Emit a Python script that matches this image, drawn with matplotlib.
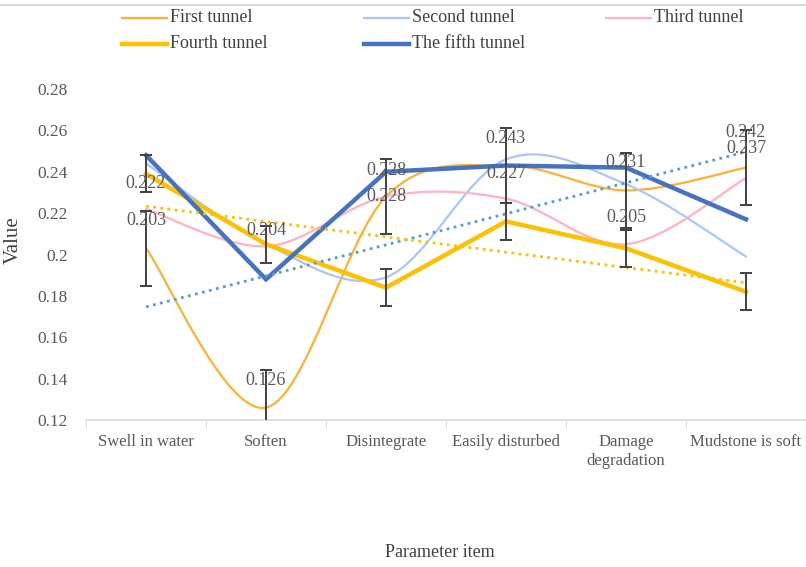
import numpy as np
import matplotlib.pyplot as plt
from matplotlib.path import Path
from matplotlib.patches import PathPatch
from matplotlib.lines import Line2D

plt.rcParams['font.family'] = ['Liberation Serif', 'DejaVu Serif']

# Survey values per parameter item
categories = ['Swell in water', 'Soften', 'Disintegrate', 'Easily disturbed',
              'Damage\ndegradation', 'Mudstone is soft']
first = [0.203, 0.126, 0.228, 0.243, 0.231, 0.242]
second = [0.244, 0.205, 0.189, 0.246, 0.234, 0.199]
third = [0.222, 0.204, 0.228, 0.227, 0.205, 0.237]
fourth = [0.239, 0.205, 0.184, 0.216, 0.203, 0.182]
fifth = [0.248, 0.188, 0.240, 0.243, 0.242, 0.217]
first_err = 0.018
fourth_err = 0.009
names = ['First tunnel', 'Second tunnel', 'Third tunnel', 'Fourth tunnel', 'The fifth tunnel']

# label lift above the point, in pixels
first_lift = [28, 27, 26, 27, 28, 35]
third_lift = [25, 16, 0, 25, 27, 29]

W, H = 806, 567
fig = plt.figure(figsize=(W / 100, H / 100), dpi=100)
ax = fig.add_axes([86 / W, (H - 420) / H, 720 / W, 331 / H])

x = np.arange(len(categories))


def smooth_path(xs, ys):
    # Catmull-Rom style bezier through the points, like a spreadsheet "smoothed line"
    pts = np.column_stack([xs, ys]).astype(float)
    ext = np.vstack([pts[0], pts, pts[-1]])
    verts = [pts[0]]
    codes = [Path.MOVETO]
    for i in range(len(pts) - 1):
        p0, p1, p2, p3 = ext[i], ext[i + 1], ext[i + 2], ext[i + 3]
        c1 = p1 + (p2 - p0) / 6
        c2 = p2 - (p3 - p1) / 6
        verts += [c1, c2, p2]
        codes += [Path.CURVE4] * 3
    return Path(verts, codes)


colors = ['#FFB131', '#A9C6F5', '#FFB3C0', '#FFC000', '#4472C4']
widths = [1.6, 1.6, 1.6, 3.2, 3.2]

for ys, c, lw in zip([first, second, third], colors[:3], widths[:3]):
    ax.add_patch(PathPatch(smooth_path(x, ys), fill=False, edgecolor=c, lw=lw,
                           capstyle='round', zorder=2))
ax.plot(x, fourth, color=colors[3], lw=widths[3], zorder=3, solid_joinstyle='miter')
ax.plot(x, fifth, color=colors[4], lw=widths[4], zorder=4, solid_joinstyle='miter')

# linear trendlines
k1, b1 = np.polyfit(x, first, 1)
k4, b4 = np.polyfit(x, fourth, 1)
ax.plot(x, k1 * x + b1, color='#5B9BD5', lw=2, ls=(0, (1, 1.6)), zorder=5)
ax.plot(x, k4 * x + b4, color='#FFC000', lw=2, ls=(0, (1, 1.6)), zorder=5)

ax.errorbar(x, first, yerr=first_err, fmt='none', ecolor='#404040', elinewidth=1.4,
            capsize=4, capthick=1.4, zorder=6)
ax.errorbar(x, fourth, yerr=fourth_err, fmt='none', ecolor='#404040', elinewidth=1.4,
            capsize=4, capthick=1.4, zorder=6)

for vals, lifts in [(first, first_lift), (third, third_lift)]:
    for xi, v, d in zip(x, vals, lifts):
        ax.annotate(f'{v:.3f}', (xi, v), xytext=(0, d * 0.72), textcoords='offset points',
                    ha='center', va='center', fontsize=13, color='#595959', zorder=7)

ax.set_xlim(-0.5, len(categories) - 0.5)
ax.set_ylim(0.12, 0.28)
ax.set_yticks(np.arange(0.12, 0.281, 0.02))
ax.set_yticklabels(['0.12', '0.14', '0.16', '0.18', '0.2', '0.22', '0.24', '0.26', '0.28'])
ax.set_xticks(x)
ax.set_xticklabels(categories, linespacing=1.3)
ax.set_xticks(np.arange(-0.5, len(categories)), minor=True)
ax.tick_params(axis='x', which='major', length=0, pad=10, labelsize=12, labelcolor='#595959')
ax.tick_params(axis='x', which='minor', length=5, color='#D9D9D9', direction='out')
ax.tick_params(axis='y', length=0, pad=13, labelsize=12.5, labelcolor='#595959')
for s in ['top', 'right', 'left']:
    ax.spines[s].set_visible(False)
ax.spines['bottom'].set_color('#D9D9D9')
ax.spines['bottom'].set_linewidth(1.2)

ax.set_ylabel('Value', fontsize=15, color='#404040')
ax.yaxis.set_label_coords(-0.088, 0.544)
ax.set_xlabel('Parameter item', fontsize=13, color='#404040')
ax.xaxis.set_label_coords(0.492, -0.375)

# legend, two rows
legend_pos = [(122, 18), (364, 18), (606, 18), (122, 44), (364, 44)]
for name, c, lw, (lx, ly) in zip(names, colors, widths, legend_pos):
    fy = 1 - ly / H
    fig.add_artist(Line2D([lx / W, (lx + 45) / W], [fy, fy], color=c, lw=lw,
                          transform=fig.transFigure))
    fig.text((lx + 48) / W, fy, name, fontsize=13, color='#404040', va='center', ha='left')

# frame edge at the top
fig.add_artist(Line2D([0, 1], [1 - 5 / H, 1 - 5 / H], color='#D9D9D9', lw=1.5,
                      transform=fig.transFigure))

fig.savefig('out.png', dpi=100)
